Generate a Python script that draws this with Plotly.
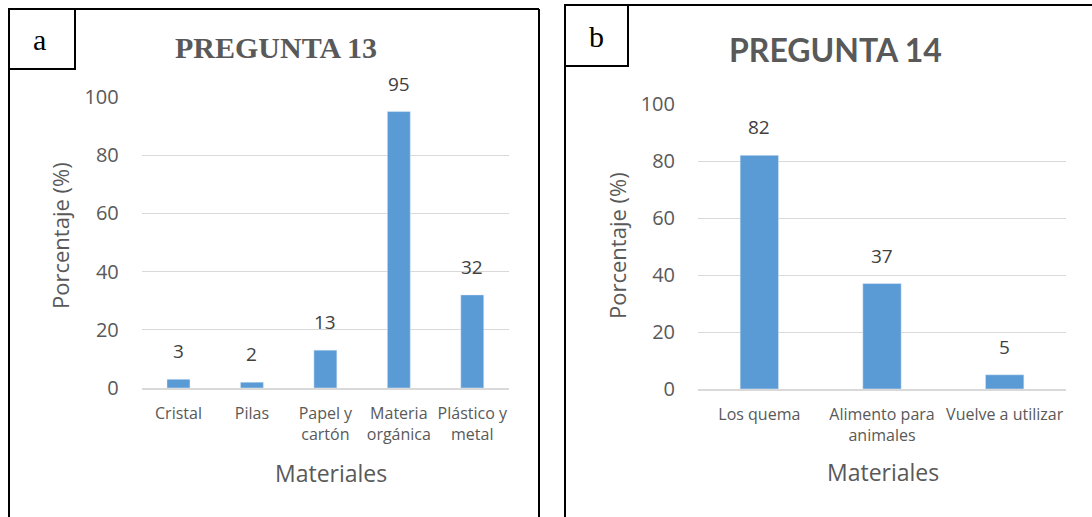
import plotly.graph_objects as go

# Pregunta 13: materiales separados
cat_13 = ["Cristal", "Pilas", "Papel y<br>cartón", "Materia<br>orgánica", "Plástico y<br>metal"]
val_13 = [3, 2, 13, 95, 32]

# Pregunta 14: destino de los residuos orgánicos
cat_14 = ["Los quema", "Alimento para<br>animales", "Vuelve a utilizar"]
val_14 = [82, 37, 5]

y_ticks = [0, 20, 40, 60, 80, 100]

W, H = 1092, 517
BAR = "#5b9bd5"
GRID = "#d9d9d9"
TXT = "#595959"
VAL = "#404040"
SANS = "Open Sans, sans-serif"
SERIF = "Liberation Serif, Times New Roman, serif"


def px(x):
    return x / W


def py(y):
    return 1 - y / H


fig = go.Figure()
fig.add_trace(go.Bar(x=cat_13, y=val_13, marker_color=BAR, xaxis="x", yaxis="y",
                     showlegend=False, hoverinfo="x+y"))
fig.add_trace(go.Bar(x=cat_14, y=val_14, marker_color=BAR, xaxis="x2", yaxis="y2",
                     showlegend=False, hoverinfo="x+y"))

common_y = dict(range=[0, 100], tickvals=y_ticks, showgrid=True, gridcolor=GRID, gridwidth=1,
                zeroline=False, showline=False, ticks="outside", ticklen=18,
                tickcolor="rgba(0,0,0,0)", tickfont=dict(family=SANS, size=20, color=TXT),
                fixedrange=True, automargin=False)
common_x = dict(showline=True, linecolor=GRID, linewidth=1.5, showgrid=False, ticks="outside",
                ticklen=10, tickcolor="rgba(0,0,0,0)",
                tickfont=dict(family=SANS, size=16, color=TXT), fixedrange=True,
                automargin=False)

fig.update_layout(
    width=W, height=H,
    margin=dict(l=0, r=0, t=0, b=0, pad=0, autoexpand=False),
    paper_bgcolor="white", plot_bgcolor="white",
    showlegend=False,
    bargap=0.687,
    xaxis=dict(domain=[px(141.75), px(509)], anchor="y", **common_x),
    yaxis=dict(domain=[py(388), py(97)], anchor="x", **common_y),
    xaxis2=dict(domain=[px(698), px(1066)], anchor="y2", **common_x),
    yaxis2=dict(domain=[py(389), py(104)], anchor="x2", **common_y),
)

ann = []


def text(x, y, s, family, size, color, angle=0):
    ann.append(dict(x=px(x), y=py(y), xref="paper", yref="paper", text=s, showarrow=False,
                    xanchor="center", yanchor="middle", textangle=angle,
                    font=dict(family=family, size=size, color=color)))


# value labels above the bars
for c, v in zip(cat_13, val_13):
    ann.append(dict(x=c, y=v, xref="x", yref="y", text=str(v), showarrow=False,
                    xanchor="center", yanchor="bottom", yshift=13,
                    font=dict(family=SANS, size=19, color=VAL)))
for c, v in zip(cat_14, val_14):
    ann.append(dict(x=c, y=v, xref="x2", yref="y2", text=str(v), showarrow=False,
                    xanchor="center", yanchor="bottom", yshift=13,
                    font=dict(family=SANS, size=19, color=VAL)))

# titles
text(275.5, 48, "<b>PREGUNTA 13</b>", SERIF, 30, TXT)
text(835.5, 49, "<b>PREGUNTA 14</b>", "Lato, sans-serif", 32, TXT)

# axis titles
text(60, 236, "Porcentaje (%)", SANS, 22, TXT, -90)
text(617, 246, "Porcentaje (%)", SANS, 22, TXT, -90)
text(331, 473, "Materiales", SANS, 23, TXT)
text(883, 472, "Materiales", SANS, 23, TXT)

# panel letters
text(39, 40, "a", SERIF, 30, "black")
text(597, 36, "b", SERIF, 30, "black")
fig.update_layout(annotations=ann)

# panel frames and letter boxes
shapes = []


def line(x0, y0, x1, y1, w=2):
    shapes.append(dict(type="line", xref="paper", yref="paper", x0=px(x0), y0=py(y0),
                       x1=px(x1), y1=py(y1), line=dict(color="black", width=w)))


line(9, 9, 539, 9)
line(9, 9, 9, 520)
line(539, 9, 539, 520)
shapes.append(dict(type="rect", xref="paper", yref="paper", x0=px(9), y0=py(69), x1=px(75),
                   y1=py(9), line=dict(color="black", width=2)))
line(565, 5, 1095, 5)
line(565, 5, 565, 520)
shapes.append(dict(type="rect", xref="paper", yref="paper", x0=px(565), y0=py(66), x1=px(628),
                   y1=py(5), line=dict(color="black", width=2)))
fig.update_layout(shapes=shapes)

fig.write_html("out.html")
